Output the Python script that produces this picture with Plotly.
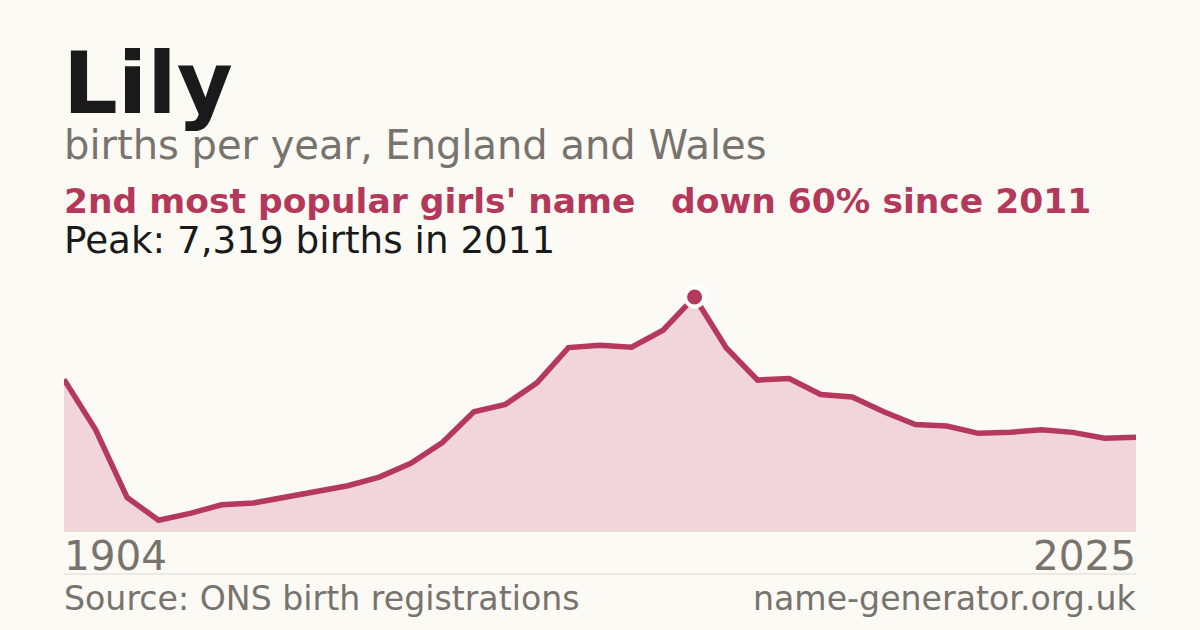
import plotly.graph_objects as go

# ---- data ----
years = [1904, 1914, 1924, 1934, 1944, 1954, 1964, 1974, 1984, 1994,
         2001, 2002, 2003, 2004, 2005, 2006, 2007, 2008, 2009, 2010,
         2011, 2012, 2013, 2014, 2015, 2016, 2017, 2018, 2019, 2020,
         2021, 2022, 2023, 2024, 2025]
births = [4740, 3170, 1050, 335, 550, 820, 875, 1060, 1260, 1415,
          1685, 2120, 2765, 3730, 3960, 4635, 5735, 5810, 5750, 6280,
          7319, 5730, 4720, 4770, 4270, 4190, 3730, 3330, 3285, 3055,
          3085, 3170, 3085, 2900, 2930]

name = "Lily"
subtitle = "births per year, England and Wales"
rank_text = "2nd most popular girls' name"
change_text = "down 60% since 2011"
source_text = "Source: ONS birth registrations"
site_text = "name-generator.org.uk"

# ---- styling ----
W, H = 1200, 630
ML, MR, MT, MB = 64, 64, 280, 99
PW = W - ML - MR
PH = H - MT - MB
BG = "#fbfaf5"
RED = "#b3385a"
LINE = "#b5395c"
FILL = "#f2d5db"
GRAY = "#78736c"
DARK = "#1a1a1a"
FONT = "DejaVu Sans"

x_cat = [str(y) for y in years]
peak_i = max(range(len(births)), key=lambda i: births[i])

fig = go.Figure()
fig.add_trace(go.Scatter(
    x=x_cat, y=births, mode="lines",
    line=dict(color=LINE, width=5.5, shape="linear"),
    fill="tozeroy", fillcolor=FILL, hoverinfo="x+y", showlegend=False,
))
fig.add_trace(go.Scatter(
    x=[x_cat[peak_i]], y=[births[peak_i]], mode="markers",
    marker=dict(size=19, color=LINE, line=dict(color="white", width=4)),
    showlegend=False, cliponaxis=False,
))


def px_x(x):
    return (x - ML) / PW


def px_y(y):
    return (H - MB - y) / PH


def text_ann(txt, x_px, baseline_px, size, color, bold=False, anchor="left"):
    center = baseline_px - 0.346 * size
    return dict(
        text=f"<b>{txt}</b>" if bold else txt,
        xref="paper", yref="paper",
        x=px_x(x_px), y=px_y(center),
        xanchor=anchor, yanchor="middle",
        showarrow=False, borderpad=0,
        font=dict(family=FONT, size=size, color=color),
    )


anns = [
    text_ann(name, 62, 113, 86, DARK, bold=True),
    text_ann(subtitle, 63, 159, 40, GRAY),
    text_ann(rank_text, 63, 213, 34.5, RED, bold=True),
    text_ann(change_text, 670, 213, 34.5, RED, bold=True),
    text_ann(f"Peak: {births[peak_i]:,} births in {years[peak_i]}", 63, 253, 37.3, DARK),
    text_ann(str(years[0]), 63, 570, 40.5, GRAY),
    text_ann(str(years[-1]), 1137, 570, 40.5, GRAY, anchor="right"),
    text_ann(source_text, 63, 610, 33.2, GRAY),
    text_ann(site_text, 1137, 610, 33.2, GRAY, anchor="right"),
]

fig.update_layout(
    width=W, height=H,
    margin=dict(l=ML, r=MR, t=MT, b=MB, pad=0),
    paper_bgcolor=BG, plot_bgcolor=BG,
    annotations=anns,
    shapes=[dict(type="line", xref="paper", yref="paper",
                 x0=0, x1=1, y0=px_y(574), y1=px_y(574),
                 line=dict(color="#dedad3", width=1))],
    xaxis=dict(type="category", range=[0, len(years) - 1],
               showgrid=False, zeroline=False, showticklabels=False,
               ticks="", showline=True, linecolor="#e6e0da", linewidth=1),
    yaxis=dict(range=[0, 7850], showgrid=False, zeroline=False,
               showticklabels=False, ticks="", showline=False),
    showlegend=False,
)

fig.write_html(
    "out.html",
    config={"displayModeBar": False},
    post_script="document.body.style.margin='0';document.body.style.background='%s';" % BG,
)
